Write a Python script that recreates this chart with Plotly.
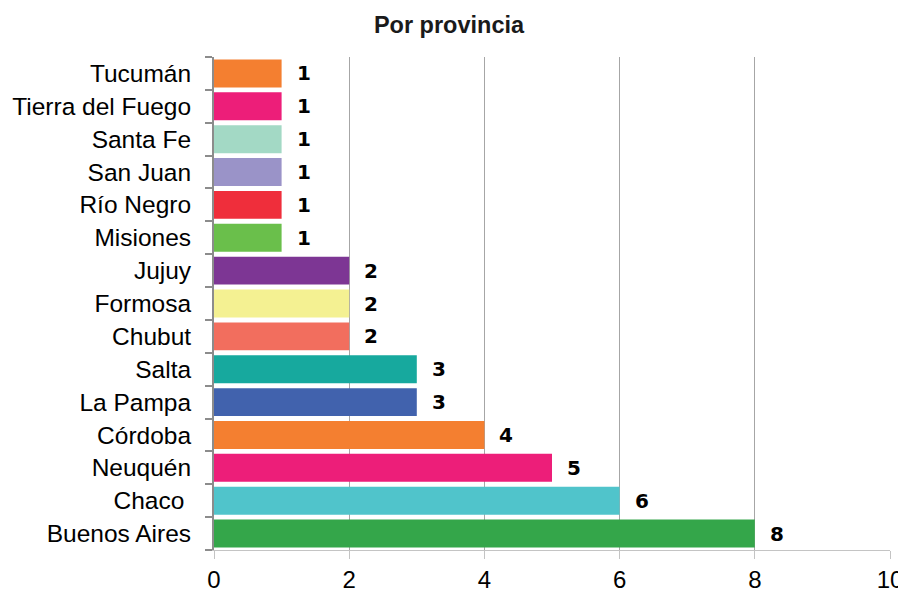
import plotly.graph_objects as go

provinces = ["Buenos Aires", "Chaco ", "Neuquén", "Córdoba", "La Pampa", "Salta",
             "Chubut", "Formosa", "Jujuy", "Misiones", "Río Negro", "San Juan",
             "Santa Fe", "Tierra del Fuego", "Tucumán"]
counts = [8, 6, 5, 4, 3, 3, 2, 2, 2, 1, 1, 1, 1, 1, 1]
colors = ["#34a64a", "#50c4cb", "#ed1e79", "#f47f30", "#4162ad", "#17a99e",
          "#f26e5e", "#f4f192", "#7d3694", "#6abf4b", "#ef2e3b", "#9a93c8",
          "#a3d9c5", "#ed1e79", "#f47f30"]
x_ticks = [0, 2, 4, 6, 8, 10]

W, H = 898, 584

fig = go.Figure()
fig.add_trace(go.Bar(
    y=provinces, x=counts, orientation="h",
    marker=dict(color=colors, line=dict(width=0)),
    hoverinfo="x+y",
))

for p, c in zip(provinces, counts):
    fig.add_annotation(x=c, y=p, text=str(c), showarrow=False,
                       xanchor="left", xshift=13,
                       font=dict(family="DejaVu Sans", size=20, color="black", weight="bold"))

fig.update_layout(
    width=W, height=H,
    margin=dict(l=206, r=16, t=49, b=42),
    paper_bgcolor="white", plot_bgcolor="white",
    bargap=0.15,
    showlegend=False,
    title=dict(text="<b>Por provincia</b>", x=(449 - 8) / W, xanchor="center",
               y=1 - 17 / H, yanchor="middle", yref="container",
               font=dict(family="Liberation Sans", size=23.5, color="#1a1a1a")),
    xaxis=dict(range=[0, 10], tickvals=x_ticks, showgrid=True,
               gridcolor="#a6a6a6", gridwidth=1, zeroline=False,
               showline=True, linecolor="#c4c4c4", linewidth=1,
               ticks="outside", ticklen=8, tickcolor="#c4c4c4",
               tickfont=dict(family="Liberation Sans", size=24, color="black"),
               ticklabelstandoff=0, fixedrange=True, automargin=False),
    yaxis=dict(type="category", tickson="boundaries", ticks="outside",
               ticklen=7, tickcolor="#8c8c8c", tickwidth=1.5,
               showline=True, linecolor="#8c8c8c", linewidth=2,
               showgrid=False, zeroline=False,
               tickfont=dict(family="Liberation Sans", size=24.5, color="black"),
               ticklabelstandoff=16, fixedrange=True, automargin=False),
)

fig.write_html("out.html")
